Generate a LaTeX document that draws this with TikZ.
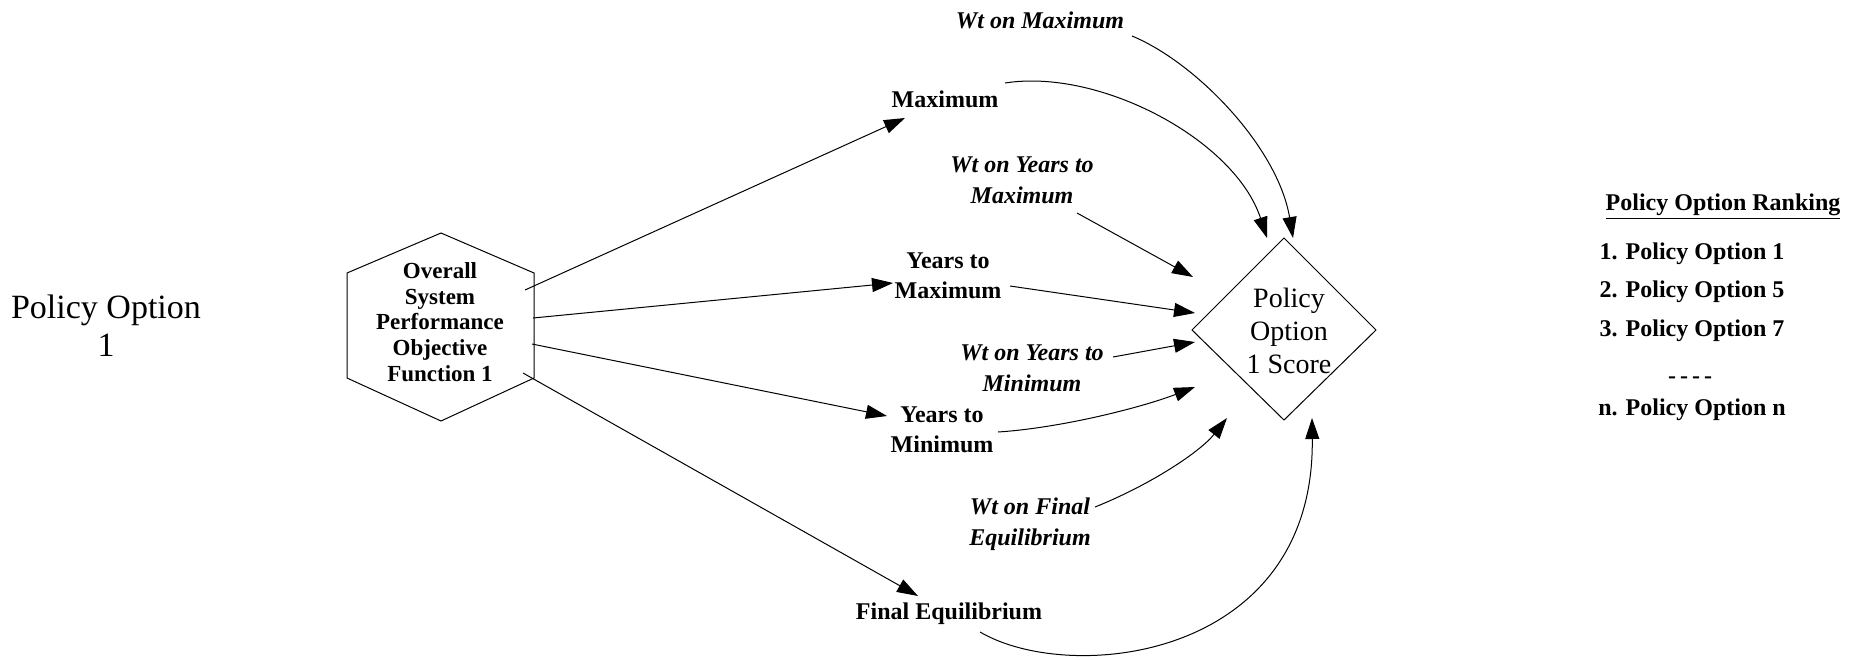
\documentclass[tikz,border=0pt]{standalone}
\usepackage{fontspec}
\setmainfont{Liberation Serif}
\usetikzlibrary{arrows.meta}
\begin{document}
\begin{tikzpicture}[x=0.5pt,y=-0.5pt,
  lbl/.style={font=\fontsize{12}{15}\selectfont\bfseries, align=center, inner sep=0pt},
  wlbl/.style={font=\fontsize{12}{15.5}\selectfont\bfseries\itshape, align=center, inner sep=0pt},
  rank/.style={font=\fontsize{12}{14}\selectfont\bfseries, inner sep=0pt},
  conn/.style={line width=0.5pt, -{Triangle[length=10.5pt,width=7pt]}},
  shapeline/.style={line width=0.5pt}]
\useasboundingbox (0,0) rectangle (1855,659);

% left title
\node[font=\fontsize{17}{19}\selectfont, align=center, inner sep=0pt] (title) at (106,326) {Policy Option\\1};

% hexagon
\coordinate (hT) at (441,233);
\coordinate (hUL) at (347,273);
\coordinate (hLL) at (347,378);
\coordinate (hB) at (441,421);
\coordinate (hLR) at (534,378);
\coordinate (hUR) at (534,273);
\draw[shapeline] (hT) -- (hUL) -- (hLL) -- (hB) -- (hLR) -- (hUR) -- cycle;
\node[font=\fontsize{11.5}{12.9}\selectfont\bfseries, align=center, inner sep=0pt] (hex) at (440,322) {Overall\\System\\Performance\\Objective\\Function 1};
\coordinate (h1) at (525,290);
\coordinate (h2) at (533,318);
\coordinate (h3) at (532,344);
\coordinate (h4) at (523,373);

% intermediate nodes
\node[lbl] (max) at (945,99) {Maximum};
\node[lbl] (ytmax) at (948,276) {Years to\\Maximum};
\node[lbl] (ytmin) at (942,430) {Years to\\Minimum};
\node[lbl] (fineq) at (949,614) {Final Equilibrium};

\node[wlbl] (wmax) at (1040,20) {Wt on Maximum};
\node[wlbl] (wytmax) at (1022,180) {Wt on Years to\\Maximum};
\node[wlbl] (wytmin) at (1032,368) {Wt on Years to\\Minimum};
\node[wlbl] (wfin) at (1030,524) {Wt on Final\\Equilibrium};

% diamond
\coordinate (dT) at (1284,238);
\coordinate (dL) at (1192,330);
\coordinate (dB) at (1284,420);
\coordinate (dR) at (1376,330);
\draw[shapeline] (dT) -- (dL) -- (dB) -- (dR) -- cycle;
\node[font=\fontsize{14}{16.5}\selectfont, align=center, inner sep=0pt] (score) at (1289,331) {Policy\\Option\\1 Score};

% arrow tips
\coordinate (tMax) at (905,118);
\coordinate (tYtMax) at (893,283);
\coordinate (tYtMin) at (887,416);
\coordinate (tFin) at (918,596);

\coordinate (sWmax) at (1132,36);
\coordinate (eWmax) at (1293,238);
\coordinate (sMax) at (1005,83);
\coordinate (eMax) at (1267,238);
\coordinate (sWytmax) at (1077,213);
\coordinate (eWytmax) at (1193,277);
\coordinate (sYtmax) at (1010,286);
\coordinate (eYtmax) at (1195,313);
\coordinate (sWytmin) at (1113,357);
\coordinate (eWytmin) at (1195,342);
\coordinate (sYtmin) at (998,432);
\coordinate (eYtmin) at (1195,387);
\coordinate (sWfin) at (1095,507);
\coordinate (eWfin) at (1227,418);
\coordinate (sFin) at (980,632);
\coordinate (eFin) at (1312,418);

% connectors from hexagon
\draw[conn] (h1) -- (tMax);
\draw[conn] (h2) -- (tYtMax);
\draw[conn] (h3) -- (tYtMin);
\draw[conn] (h4) -- (tFin);

% connectors into score
\draw[conn] (sWmax) .. controls (1197,63) and (1278,148) .. (eWmax);
\draw[conn] (sMax) .. controls (1100,68) and (1235,140) .. (eMax);
\draw[conn] (sWytmax) -- (eWytmax);
\draw[conn] (sYtmax) -- (eYtmax);
\draw[conn] (sWytmin) -- (eWytmin);
\draw[conn] (sYtmin) .. controls (1060,428) and (1140,408) .. (eYtmin);
\draw[conn] (sWfin) .. controls (1150,485) and (1200,452) .. (eWfin);
\draw[conn] (sFin) .. controls (1070,685) and (1315,660) .. (eFin);

% ranking
\node[rank] (rtitle) at (1723,207) {\underline{Policy Option Ranking}};
\node[rank] (r1) at (1692,254) {1. Policy Option 1};
\node[rank] (r2) at (1692,292) {2. Policy Option 5};
\node[rank] (r3) at (1692,331) {3. Policy Option 7};
\node[rank] (rd) at (1690,380) {{-}\,{-}\,{-}\,{-}};
\node[rank] (rn) at (1692,410) {n. Policy Option n};
\end{tikzpicture}
\end{document}
